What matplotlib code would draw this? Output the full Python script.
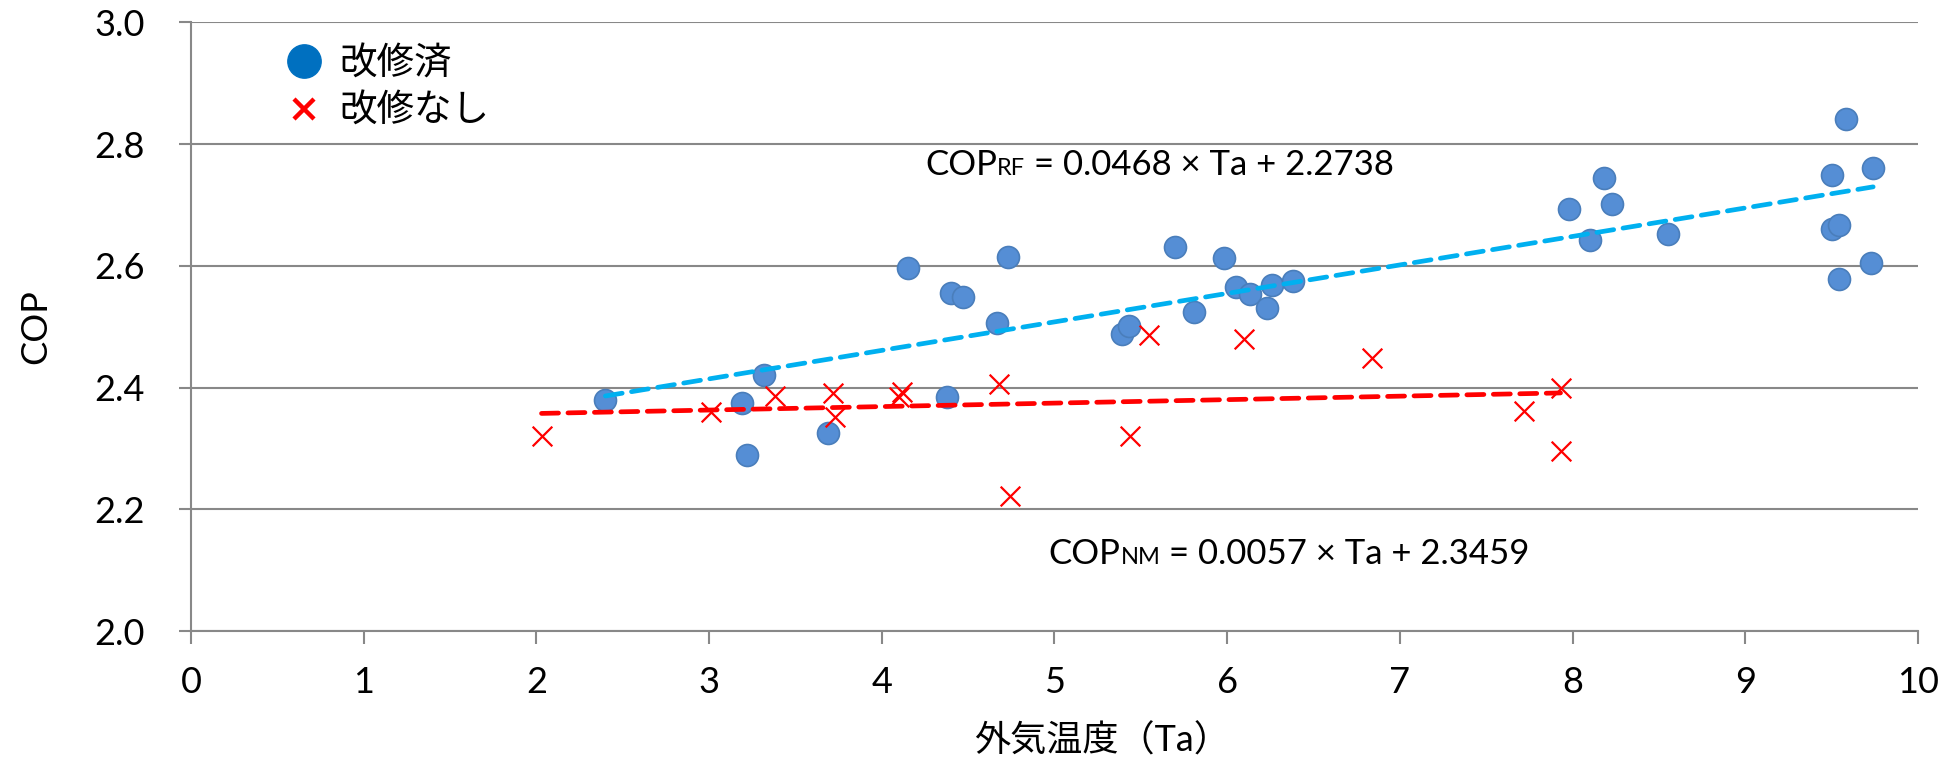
import numpy as np
import matplotlib
matplotlib.use("Agg")
import matplotlib.pyplot as plt
from matplotlib.lines import Line2D

plt.rcParams['font.family'] = ['Lato', 'Noto Sans CJK JP', 'DejaVu Sans']

# 改修済 (retrofitted)
ta_rf = [2.40, 3.19, 3.22, 3.32, 3.69, 4.15, 4.38, 4.40, 4.47, 4.67, 4.73,
         5.39, 5.43, 5.70, 5.81, 5.98, 6.05, 6.13, 6.23, 6.26, 6.38,
         7.98, 8.10, 8.18, 8.23, 8.55, 9.50, 9.50, 9.54, 9.54, 9.58, 9.73, 9.74]
cop_rf = [2.380, 2.374, 2.289, 2.420, 2.326, 2.597, 2.385, 2.556, 2.548, 2.506, 2.614,
          2.488, 2.501, 2.631, 2.524, 2.613, 2.565, 2.553, 2.531, 2.569, 2.575,
          2.694, 2.642, 2.745, 2.701, 2.653, 2.749, 2.661, 2.667, 2.579, 2.841, 2.605, 2.760]

# 改修なし (not retrofitted)
ta_nm = [2.03, 3.01, 3.38, 3.72, 3.73, 4.10, 4.12, 4.68, 4.74, 5.44, 5.55,
         6.10, 6.84, 7.72, 7.93, 7.93]
cop_nm = [2.321, 2.360, 2.386, 2.391, 2.351, 2.384, 2.393, 2.405, 2.222, 2.320, 2.486,
          2.480, 2.449, 2.362, 2.400, 2.296]

# trend line coefficients as printed on the chart
slope_rf, icpt_rf = 0.0468, 2.2738
slope_nm, icpt_nm = 0.0057, 2.3459

fig = plt.figure(figsize=(19.6, 7.6), dpi=100)
ax = fig.add_axes([0.0974, 0.1697, 0.8812, 0.8010])

grey = '#888888'
ax.scatter(ta_rf, cop_rf, s=250, color='#558ED5', edgecolors='#4A7EBB', linewidths=1.2, zorder=3)
ax.scatter(ta_nm, cop_nm, s=200, marker='x', color='#FF0000', linewidths=1.6, zorder=3)

x_rf = np.array([min(ta_rf), max(ta_rf)])
x_nm = np.array([min(ta_nm), max(ta_nm)])
ax.plot(x_rf, slope_rf * x_rf + icpt_rf, color='#00B0F0', lw=3.4,
        dashes=(3.6, 2.0), dash_capstyle='round', zorder=4)
ax.plot(x_nm, slope_nm * x_nm + icpt_nm, color='#FF0000', lw=3.4,
        dashes=(3.6, 2.0), dash_capstyle='round', zorder=4)

ax.set_xlim(0, 10)
ax.set_ylim(2.0, 3.0)
ax.set_xticks(range(0, 11))
ax.set_yticks([2.0, 2.2, 2.4, 2.6, 2.8, 3.0])
ax.set_yticklabels(['2.0', '2.2', '2.4', '2.6', '2.8', '3.0'])
ax.grid(axis='y', color=grey, lw=1.5)
ax.set_axisbelow(True)
for side in ['top', 'right']:
    ax.spines[side].set_visible(False)
for side in ['left', 'bottom']:
    ax.spines[side].set_color(grey)
    ax.spines[side].set_linewidth(1.5)
ax.tick_params(axis='both', colors=grey, labelcolor='black', labelsize=26,
               length=9, width=1.5, direction='out')
ax.tick_params(axis='y', pad=24)
ax.tick_params(axis='x', pad=16)

fig.text(0.018, 0.57, 'COP', fontsize=26, rotation=90, ha='center', va='center')
fig.text(0.562, 0.026, '外気温度（Ta）', fontsize=26, ha='center', va='center')

handles = [Line2D([], [], ls='none', marker='o', markersize=24, color='#0070C0'),
           Line2D([], [], ls='none', marker='x', markersize=14, color='#FF0000', mew=3.2)]
ax.legend(handles, ['改修済', '改修なし'], loc='upper left', bbox_to_anchor=(0.037, 1.005),
          frameon=False, fontsize=27, handletextpad=0.35, labelspacing=0.3,
          handlelength=1.2, borderpad=0.2)


def equation(x, y, main, sub, rest):
    # COP + small subscript label + remainder, placed one after another
    t1 = ax.text(x, y, main, fontsize=25, transform=fig.transFigure, va='baseline')
    fig.canvas.draw()
    bb = t1.get_window_extent()
    x2 = bb.x1 / fig.bbox.width
    t2 = ax.text(x2, y, sub, fontsize=17, transform=fig.transFigure, va='baseline')
    fig.canvas.draw()
    bb = t2.get_window_extent()
    x3 = bb.x1 / fig.bbox.width
    ax.text(x3, y, rest, fontsize=25, transform=fig.transFigure, va='baseline')


equation(0.472, 0.770, 'COP', 'RF', ' = 0.0468 × Ta + 2.2738')
equation(0.535, 0.258, 'COP', 'NM', ' = 0.0057 × Ta + 2.3459')

fig.savefig('out.png', dpi=100)
